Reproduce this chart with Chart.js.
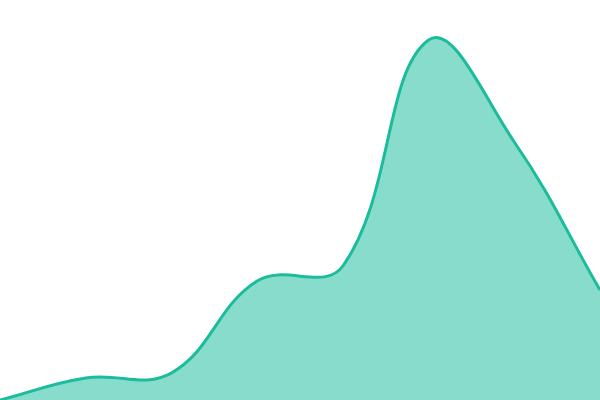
<!DOCTYPE html>
<html lang="en">
<head>
    <meta charset="UTF-8">
    <title>Area</title>
    <script src="https://cdn.jsdelivr.net/npm/chart.js"></script>
    <style>
        html, body { margin: 0; padding: 0; background: #fff; }
        .wrap { width: 600px; height: 400px; }
    </style>
</head>
<body>
    <div class="wrap"><canvas id="areaChart"></canvas></div>
    <script>
        const labels = ['1', '2', '3', '4', '5', '6', '7', '8'];
        const values = [0, 22, 27, 119, 134, 360, 258, 110];
        const yMin = 0;
        const yMax = 400;

        const ctx = document.getElementById('areaChart').getContext('2d');
        new Chart(ctx, {
            type: 'line',
            data: {
                labels: labels,
                datasets: [{
                    data: values,
                    borderColor: '#1abc9c',
                    backgroundColor: 'rgba(26, 188, 156, 0.52)',
                    borderWidth: 3,
                    fill: 'origin',
                    tension: 0.4,
                    pointRadius: 0
                }]
            },
            options: {
                responsive: true,
                maintainAspectRatio: false,
                animation: false,
                layout: { padding: 0 },
                plugins: { legend: { display: false }, tooltip: { enabled: false } },
                scales: {
                    x: { display: false, offset: false },
                    y: { display: false, min: yMin, max: yMax }
                }
            }
        });
    </script>
</body>
</html>
